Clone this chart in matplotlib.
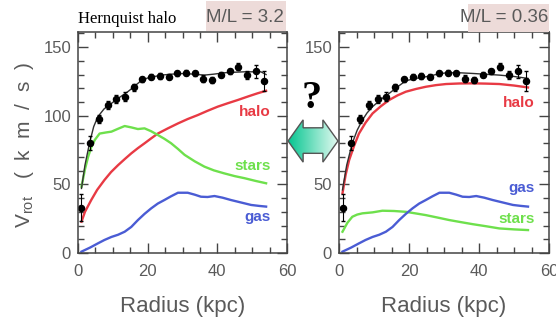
import matplotlib.pyplot as plt
import numpy as np
from matplotlib.colors import LinearSegmentedColormap
from matplotlib.patches import Polygon, Rectangle
from matplotlib.ticker import MultipleLocator

# Datos observados (iguales en los dos paneles)
radio_obs = [1, 3.5, 6, 8.5, 11, 13.5, 16, 18.5, 21, 23.5, 26, 28.5, 31, 33.5,
             36, 38.5, 41, 43.5, 46, 48.5, 51, 53.5]
v_obs = [33, 80, 97.6, 107.6, 112, 114, 120.7, 126.5, 128.4, 129, 128.4, 130.9,
         131.4, 130.9, 127, 126, 130, 132.3, 135.7, 129.9, 132.3, 125.3]
err_obs = [10, 5, 3, 3, 3, 3, 2.5, 2, 2, 2, 2, 2, 2, 2, 2.5, 2.5, 2, 2, 2.5, 3, 5, 7]

# Panel izquierdo: halo de Hernquist, M/L = 3.2
r_fit_izq = [1, 2, 3.3, 4.5, 5.7, 7.5, 9.6, 12, 14.3, 16, 18.1, 20, 23.9, 27,
             30.6, 33, 36.3, 39, 42, 45, 47.8, 50, 52.5, 54]
v_fit_izq = [47, 64, 80, 92, 99.3, 105, 109, 113.5, 117.5, 121, 125.5, 127.5,
             129.6, 130.3, 130.8, 130.3, 129.6, 130.3, 131.3, 131.7, 132, 132,
             132, 130]
r_halo_izq = [1, 2, 3.8, 5.5, 7.6, 9.5, 11.5, 13.5, 15.3, 17.2, 19.1, 21,
              22.9, 25.8, 28.7, 31.5, 34.4, 37.2, 40.1, 43, 45.8, 49, 51.5, 54]
v_halo_izq = [22.8, 30, 38.6, 46, 53.2, 59, 64, 68.6, 72.6, 76.4, 79.9, 83.5,
              87, 90.8, 94.4, 97.6, 100.5, 103.6, 106.6, 109.1, 111.4, 114.2,
              116.3, 118.2]
r_est_izq = [1, 2, 2.9, 3.8, 4.8, 6.2, 8, 9.6, 11.5, 13.4, 15.3, 17.2, 19.1,
             21, 22.9, 24.8, 26.7, 28.7, 30.6, 33.5, 36.3, 39, 42, 45, 47.8,
             51, 54]
v_est_izq = [48.3, 61, 70, 77, 82.3, 87, 87.8, 88.4, 90.5, 92.5, 91.5, 90.3,
             90.8, 88.7, 86, 83.2, 80, 75.8, 71.5, 66.8, 62.9, 60.2, 58, 56,
             54.5, 52.5, 50.8]

# Gas (igual en los dos paneles)
r_gas = [1, 3.5, 5.7, 7.6, 9.6, 11.5, 13.4, 15.3, 17.2, 19.1, 21, 22.9, 24.8,
         26.7, 28.7, 31.5, 33.5, 35.3, 37.2, 39.2, 41.5, 43.9, 46.8, 49.7,
         52, 54]
v_gas = [1, 4, 7, 9.5, 11.7, 13.3, 15.5, 19, 24, 28.5, 32.5, 36, 38.6, 41.3,
         43.9, 43.9, 42.5, 41, 40.8, 41.5, 40.3, 38.6, 36.8, 35, 34.3, 33.8]

# Panel derecho: M/L = 0.36
r_fit_der = [1, 2.2, 3.8, 5.2, 6.7, 8, 9.6, 12, 14.3, 16.7, 19.1, 22, 24.8,
             27.7, 30.6, 34.4, 38.2, 42, 45.8, 50, 54]
v_fit_der = [46, 64, 80, 89.5, 96.9, 102, 106.6, 112, 116.2, 121, 125.5,
             127.2, 128.4, 130, 131.3, 131.3, 130.8, 130.2, 129.6, 128.6, 127.2]
r_halo_der = [1, 1.9, 2.9, 4.3, 5.7, 7.6, 9.6, 12, 14.3, 16.7, 19.1, 22,
              24.8, 27.7, 30.6, 34.4, 38.2, 42, 45.8, 50, 54]
v_halo_der = [43.5, 57, 67.7, 78, 87, 95, 101.7, 107, 111.4, 114.8, 117.5,
              119.5, 121.1, 122.3, 123.1, 123.5, 123.6, 123.4, 123.1, 122,
              120.6]
r_est_der = [1, 2.4, 3.8, 5.2, 6.7, 9.6, 12.4, 15.7, 19.1, 22, 24.8, 28.2,
             31.5, 34.8, 38.2, 42, 45.8, 50, 54]
v_est_der = [15.5, 22, 26.4, 28, 28.9, 29.6, 30.8, 30.6, 30, 28.8, 27.6, 25.8,
             24, 22.5, 21, 19.5, 17.9, 17.2, 16.7]

# Etiquetas de las curvas
etiquetas = ['halo', 'stars', 'gas']
pos_etq_izq = [(55.4, 103), (55.4, 63.5), (55.4, 26.4)]
pos_etq_der = [(55.9, 109), (55.9, 24.5), (55.9, 47)]
# en el panel derecho el "100" queda tapado por el signo "?"
ticks_y = [0, 50, 100, 150]
etq_y_der = ['0', '50', '', '150']

plt.rcParams['font.family'] = ['Liberation Sans', 'DejaVu Sans']
gris = '#5a5a5a'
rojo = '#e83a44'
verde = '#6ee04c'
azul = '#4a5cd4'
rosa = '#eddbd9'

fig = plt.figure(figsize=(5.56, 3.29), dpi=100)
W, H = 556, 329
ax1 = fig.add_axes([78 / W, 1 - 253 / H, 209 / W, 221 / H])
ax2 = fig.add_axes([339 / W, 1 - 253 / H, 210 / W, 221 / H])


def panel(ax, r_fit, v_fit, r_halo, v_halo, r_est, v_est, pos_etq):
    ax.plot(r_halo, v_halo, color=rojo, lw=1.7)
    ax.plot(r_est, v_est, color=verde, lw=1.7)
    ax.plot(r_gas, v_gas, color=azul, lw=1.7)
    ax.plot(r_fit, v_fit, color='#303030', lw=1.0)
    ax.errorbar(radio_obs, v_obs, yerr=err_obs, fmt='o', color='black',
                ms=4.4, elinewidth=0.8, capsize=1.5)
    ax.set_xlim(0, 60)
    ax.set_ylim(0, 161)
    ax.xaxis.set_major_locator(MultipleLocator(20))
    ax.xaxis.set_minor_locator(MultipleLocator(5))
    ax.set_yticks(ticks_y)
    ax.yaxis.set_minor_locator(MultipleLocator(10))
    ax.tick_params(which='both', direction='in', top=True, right=True,
                   color='#444444', labelcolor=gris, labelsize=12)
    ax.tick_params(which='major', length=7, width=1)
    ax.tick_params(which='minor', length=4, width=1)
    ax.tick_params(axis='x', pad=8)
    ax.tick_params(axis='y', pad=5)
    for s in ax.spines.values():
        s.set_color('#444444')
        s.set_linewidth(1.1)
    ax.set_xlabel('Radius (kpc)', fontsize=16, color=gris, labelpad=12)
    for texto, color, (x, y) in zip(etiquetas, [rojo, verde, azul], pos_etq):
        ax.text(x, y, texto, color=color, fontsize=11, ha='right',
                va='center', fontweight='bold')


panel(ax1, r_fit_izq, v_fit_izq, r_halo_izq, v_halo_izq, r_est_izq, v_est_izq,
      pos_etq_izq)
panel(ax2, r_fit_der, v_fit_der, r_halo_der, v_halo_der, r_est_der, v_est_der,
      pos_etq_der)
ax2.set_yticklabels(etq_y_der)

fig.text(25 / W, 1 - 145 / H,
         r'$\mathregular{V_{rot}}$   (  k  m  /  s  )',
         fontsize=15, color=gris, rotation=90, ha='center', va='center')

# Titulo y recuadros M/L
fig.text(78 / W, 1 - 19 / H, 'Hernquist halo', family='Liberation Serif',
         fontsize=12, va='center', ha='left', color='black')
fig.patches.append(Rectangle((206 / W, 1 - 31 / H), 80 / W, 30 / H,
                             transform=fig.transFigure, fc=rosa, ec='none'))
fig.patches.append(Rectangle((468 / W, 1 - 32 / H), 81 / W, 28 / H,
                             transform=fig.transFigure, fc=rosa, ec='none'))
fig.text(284 / W, 1 - 18 / H, 'M/L = 3.2', fontsize=13.5, color=gris,
         ha='right', va='center')
fig.text(548 / W, 1 - 18 / H, 'M/L = 0.36', fontsize=13.5, color=gris,
         ha='right', va='center')

# Signo de interrogacion y flecha doble
fig.text(312 / W, 1 - 98 / H, '?', family='Liberation Serif', fontsize=29,
         fontweight='bold', ha='center', va='center')
axf = fig.add_axes([287 / W, 1 - 163 / H, 52 / W, 44 / H])
axf.set_xlim(0, 1)
axf.set_ylim(0, 1)
axf.axis('off')
grad = np.linspace(0, 1, 256).reshape(1, -1)
cmap = LinearSegmentedColormap.from_list('f', ['#00c48e', '#e8fbf3'])
img = axf.imshow(grad, cmap=cmap, extent=[0, 1, 0, 1], aspect='auto')
forma = [(0.02, 0.5), (0.31, 0.98), (0.31, 0.8), (0.69, 0.8), (0.69, 0.98),
         (0.98, 0.5), (0.69, 0.02), (0.69, 0.22), (0.31, 0.22), (0.31, 0.02)]
pol = Polygon(forma, closed=True, fc='none', ec='#555555', lw=1.0)
axf.add_patch(pol)
img.set_clip_path(pol)

fig.savefig('out.png', dpi=100)
